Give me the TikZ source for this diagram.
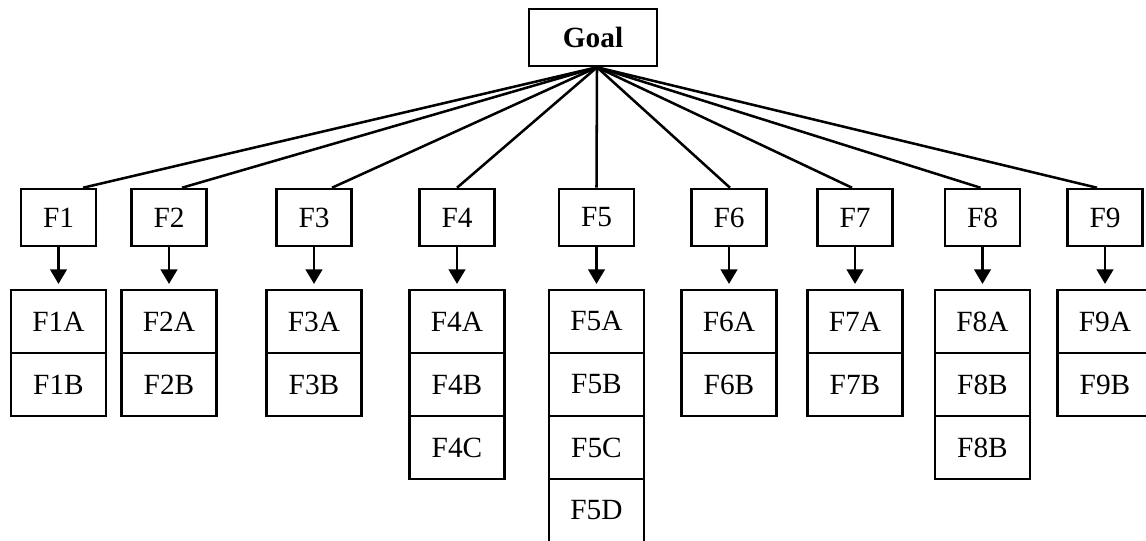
\documentclass[tikz,border=0pt]{standalone}
\usepackage{fontspec}
\setmainfont{Liberation Serif}
\usetikzlibrary{arrows.meta,positioning}

\begin{document}
\begin{tikzpicture}[x=0.75pt,y=-0.75pt,line width=1.9pt,
  font=\fontsize{22}{26}\selectfont,
  goalbox/.style={draw,minimum width=96pt,minimum height=42.75pt,inner sep=0pt,font=\fontsize{22}{26}\selectfont\bfseries},
  factor/.style={draw,minimum width=56.25pt,minimum height=42.75pt,inner sep=0pt},
  subbox/.style={draw,minimum width=71.25pt,minimum height=47.25pt,inner sep=0pt,outer sep=0pt},
  feed/.style={-{Triangle[length=11pt,width=12.5pt]},shorten >=4.5pt}]
\useasboundingbox (0,0) rectangle (1146,540);
\node[goalbox] (goal) at (593,37.5) {Goal};
% factors and their sub-factors
\foreach \i/\x/\dx/\subs in {1/58.5/24.5/{A,B}, 2/169/13/{A,B}, 3/314/18/{A,B},
    4/457/0/{A,B,C}, 5/596.5/0/{A,B,C,D}, 6/729/1/{A,B}, 7/855/-3/{A,B},
    8/982.5/-2/{A,B,B}, 9/1105/-8/{A,B}}{
  \node[factor] (f\i) at (\x,217.5) {F\i};
  \draw ([xshift=3pt]goal.south) -- ([xshift=\dx*0.75pt]f\i.north);
  \foreach \s [count=\k] in \subs {
    \ifnum\k=1
      \node[subbox,below=32pt of f\i] (f\i-\k) {F\i\s};
    \else
      \pgfmathtruncatemacro\prev{\k-1}
      \node[subbox,below=0pt of f\i-\prev] (f\i-\k) {F\i\s};
    \fi
  }
  \draw[feed] (f\i) -- (f\i-1);
}
\end{tikzpicture}
\end{document}
